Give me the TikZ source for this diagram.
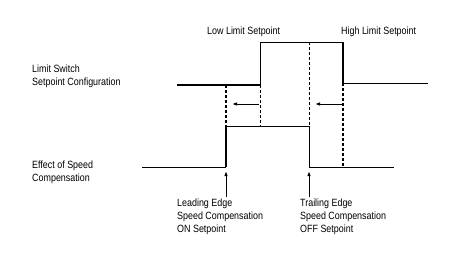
\documentclass[tikz,border=0pt]{standalone}
\usepackage{fontspec}
\setmainfont{Liberation Sans}[FakeStretch=0.85]
\usetikzlibrary{arrows.meta}

\begin{document}
\begin{tikzpicture}[
    x=1pt, y=-1pt,
    fin/.style={line width=1pt},
    epais/.style={line width=2pt},
    tirets/.style={dash pattern=on 3pt off 2pt},
    fleche/.style={line width=1pt, -{Latex[length=5pt,width=3.5pt]}},
    etiq/.style={font=\fontsize{10.5}{12.5}\selectfont, align=left, inner sep=0pt, anchor=base west},
  ]
  \useasboundingbox (0,0) rectangle (462,265);
  % signal du haut : fin de course
  \coordinate (h0) at (177,85);
  \coordinate (h1) at (260,85);
  \coordinate (h2) at (260,42);
  \coordinate (h3) at (343,42);
  \coordinate (h4) at (343,83);
  \coordinate (h5) at (428,83);
  % signal du bas : compensation
  \coordinate (b0) at (142,167);
  \coordinate (b1) at (226,167);
  \coordinate (b2) at (226,126);
  \coordinate (b3) at (309,126);
  \coordinate (b4) at (309,167);
  \coordinate (b5) at (394,167);
  \coordinate (d1) at (226,85);
  \coordinate (d2) at (260,126);
  \coordinate (d3) at (309,42);
  \coordinate (d4) at (343,167);

  \draw[epais] (h0) -- (h1);
  \draw[fin] (h1) -- (h2) -- (h3);
  \draw[epais] (h3) -- (h4);
  \draw[fin] (h4) -- (h5);
  \draw[fin] (b0) -- (b1);
  \draw[epais] (b1) -- (b2);
  \draw[fin] (b2) -- (b3) -- (b4) -- (b5);

  \draw[epais, tirets] (d1) -- (b2);
  \draw[fin, tirets] (h1) -- (d2);
  \draw[fin, tirets] (d3) -- (b3);
  \draw[epais, tirets] (h4) -- (d4);

  \coordinate (f1) at (259,104);
  \coordinate (f2) at (232,104);
  \coordinate (f3) at (342,104);
  \coordinate (f4) at (315,104);
  \draw[fleche] (f1) -- (f2);
  \draw[fleche] (f3) -- (f4);

  \coordinate (p1) at (226,197);
  \coordinate (q1) at (226,171);
  \coordinate (p2) at (309,197);
  \coordinate (q2) at (309,171);
  \draw[fleche] (p1) -- (q1);
  \draw[fleche] (p2) -- (q2);

  \node[etiq] (bas) at (207,34) {Low Limit Setpoint};
  \node[etiq] (haut) at (341,34) {High Limit Setpoint};
  \node[etiq] (config) at (32,85) {Limit Switch\\Setpoint Configuration};
  \node[etiq] (effet) at (32,181) {Effect of Speed\\Compensation};
  \node[etiq, font=\fontsize{10.5}{13}\selectfont] (avant) at (177,232) {Leading Edge\\Speed Compensation\\ON Setpoint};
  \node[etiq, font=\fontsize{10.5}{13}\selectfont] (arriere) at (300,232) {Trailing Edge\\Speed Compensation\\OFF Setpoint};
\end{tikzpicture}
\end{document}
